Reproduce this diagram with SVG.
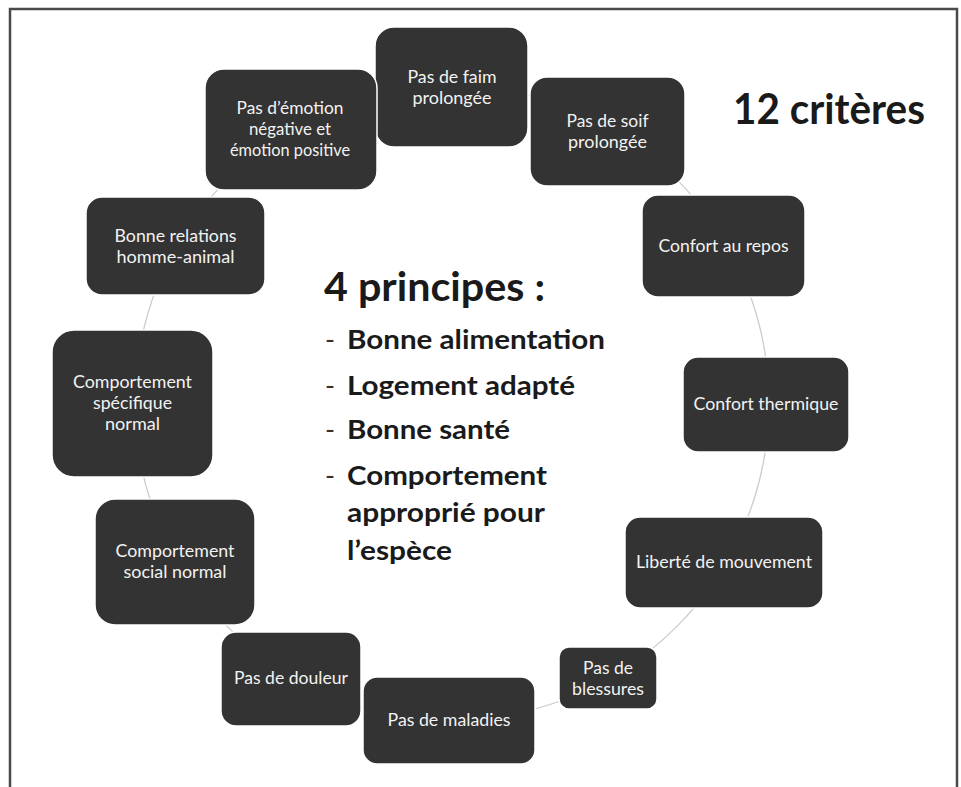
<svg xmlns="http://www.w3.org/2000/svg" width="961" height="787" viewBox="0 0 961 787">
<style>
.box{fill:#333333;stroke:#ffffff;stroke-width:1.5}
.lbl{font-family:Lato,"Liberation Sans",sans-serif;font-size:18px;fill:#f2f2f2;text-anchor:middle}
.big{font-family:Lato,"Liberation Sans",sans-serif;font-weight:bold;fill:#1a1a1a}
.dash{font-family:Lato,"Liberation Sans",sans-serif;font-size:27px;fill:#333333}
.conn{fill:none;stroke:#cccccc;stroke-width:1.3}
</style>
<rect width="961" height="787" fill="#ffffff"/>
<path d="M10,787 V9 H957 V787" fill="none" stroke="#4a4a4a" stroke-width="2.5"/>
<g id="connectors">
<circle class="conn" cx="452" cy="403" r="317"/>
</g>
<g id="n1"><rect class="box" x="375" y="27" width="153" height="120" rx="19"/>
<text class="lbl" x="452" y="83" textLength="89" lengthAdjust="spacingAndGlyphs">Pas de faim</text>
<text class="lbl" x="452" y="104" textLength="79" lengthAdjust="spacingAndGlyphs">prolongée</text></g>
<g id="n2"><rect class="box" x="530" y="77" width="155" height="109" rx="17"/>
<text class="lbl" x="607.5" y="127" textLength="82" lengthAdjust="spacingAndGlyphs">Pas de soif</text>
<text class="lbl" x="607.5" y="148" textLength="79" lengthAdjust="spacingAndGlyphs">prolongée</text></g>
<g id="n3"><rect class="box" x="642" y="195" width="163" height="102" rx="16"/>
<text class="lbl" x="723.5" y="252" textLength="130" lengthAdjust="spacingAndGlyphs">Confort au repos</text></g>
<g id="n4"><rect class="box" x="683" y="357" width="166" height="95" rx="15"/>
<text class="lbl" x="766" y="410" textLength="145" lengthAdjust="spacingAndGlyphs">Confort thermique</text></g>
<g id="n5"><rect class="box" x="625" y="517" width="198" height="91" rx="15"/>
<text class="lbl" x="724" y="568" textLength="176" lengthAdjust="spacingAndGlyphs">Liberté de mouvement</text></g>
<g id="n6"><rect class="box" x="559" y="647" width="98" height="62" rx="10"/>
<text class="lbl" x="608" y="674" textLength="50" lengthAdjust="spacingAndGlyphs">Pas de</text>
<text class="lbl" x="608" y="695" textLength="72" lengthAdjust="spacingAndGlyphs">blessures</text></g>
<g id="n7"><rect class="box" x="363" y="677" width="172" height="87" rx="14"/>
<text class="lbl" x="449" y="726" textLength="123" lengthAdjust="spacingAndGlyphs">Pas de maladies</text></g>
<g id="n8"><rect class="box" x="221" y="632" width="140" height="94" rx="15"/>
<text class="lbl" x="291" y="684" textLength="114" lengthAdjust="spacingAndGlyphs">Pas de douleur</text></g>
<g id="n9"><rect class="box" x="95" y="499" width="160" height="126" rx="20"/>
<text class="lbl" x="175" y="557" textLength="119" lengthAdjust="spacingAndGlyphs">Comportement</text>
<text class="lbl" x="175" y="578" textLength="103" lengthAdjust="spacingAndGlyphs">social normal</text></g>
<g id="n10"><rect class="box" x="52" y="330" width="161" height="147" rx="22"/>
<text class="lbl" x="132.5" y="388" textLength="119" lengthAdjust="spacingAndGlyphs">Comportement</text>
<text class="lbl" x="132.5" y="409" textLength="79" lengthAdjust="spacingAndGlyphs">spécifique</text>
<text class="lbl" x="132.5" y="430" textLength="55" lengthAdjust="spacingAndGlyphs">normal</text></g>
<g id="n11"><rect class="box" x="86" y="197" width="179" height="98" rx="16"/>
<text class="lbl" x="175.5" y="242" textLength="122" lengthAdjust="spacingAndGlyphs">Bonne relations</text>
<text class="lbl" x="175.5" y="263" textLength="118" lengthAdjust="spacingAndGlyphs">homme-animal</text></g>
<g id="n12"><rect class="box" x="205" y="69" width="172" height="121" rx="19"/>
<text class="lbl" x="290" y="114" textLength="107" lengthAdjust="spacingAndGlyphs">Pas d’émotion</text>
<text class="lbl" x="290" y="135" textLength="82" lengthAdjust="spacingAndGlyphs">négative et</text>
<text class="lbl" x="290" y="156" textLength="120" lengthAdjust="spacingAndGlyphs">émotion positive</text></g>
<g id="title">
<text class="big" x="733" y="124" font-size="42" textLength="192" lengthAdjust="spacingAndGlyphs">12 critères</text>
</g>
<g id="principes">
<text class="big" x="324" y="301" font-size="41" textLength="221" lengthAdjust="spacingAndGlyphs">4 principes :</text>
<text class="dash" x="325" y="349">-</text>
<text class="big" x="347" y="349" font-size="27" textLength="258" lengthAdjust="spacingAndGlyphs">Bonne alimentation</text>
<text class="dash" x="325" y="395">-</text>
<text class="big" x="347" y="395" font-size="27" textLength="228" lengthAdjust="spacingAndGlyphs">Logement adapté</text>
<text class="dash" x="325" y="439">-</text>
<text class="big" x="347" y="439" font-size="27" textLength="163" lengthAdjust="spacingAndGlyphs">Bonne santé</text>
<text class="dash" x="325" y="485">-</text>
<text class="big" x="347" y="485" font-size="27" textLength="200" lengthAdjust="spacingAndGlyphs">Comportement</text>
<text class="big" x="347" y="522" font-size="27" textLength="198" lengthAdjust="spacingAndGlyphs">approprié pour</text>
<text class="big" x="347" y="560" font-size="27" textLength="105" lengthAdjust="spacingAndGlyphs">l’espèce</text>
</g>
</svg>
